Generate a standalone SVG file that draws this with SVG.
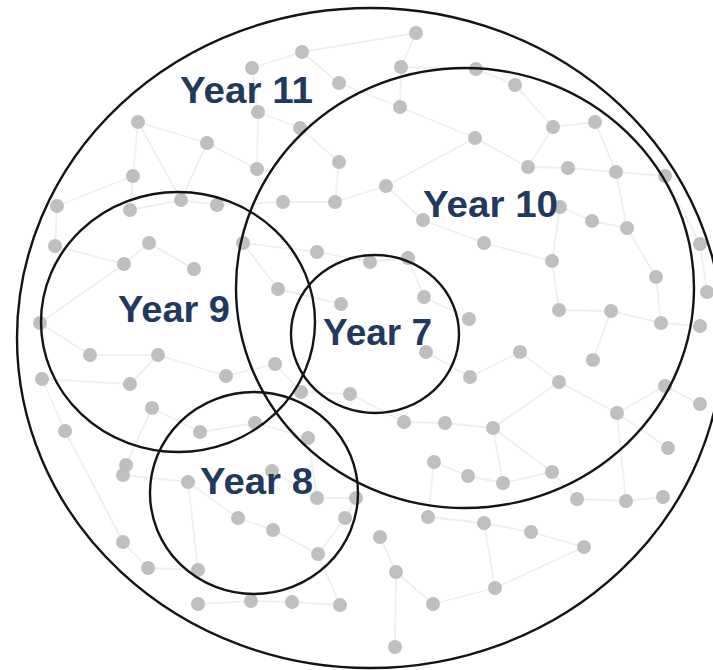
<svg xmlns="http://www.w3.org/2000/svg" width="713" height="670" viewBox="0 0 713 670">
<style>
.bg{fill:#ffffff}
.edge{stroke:#efefef;stroke-width:1.8;fill:none}
.dot{fill:#bfbfbf}
.ring{fill:none;stroke:#141414;stroke-width:2.4}
.lbl{font-family:"Liberation Sans",Arial,sans-serif;font-weight:bold;font-size:36px;fill:#1f3a5e}
</style>
<rect class="bg" x="0" y="0" width="713" height="670"/>
<g id="network-edges">
<path class="edge" d="M302,52L252,68M302,52L339,83M302,52L416,33M416,33L401,67M401,67L476,69M476,69L515,85M401,67L400,107M339,83L400,107M258,112L300,128M300,128L339,162M252,68L258,112M258,112L257,169M138,122L207,143M138,122L181,200M207,143L181,200M207,143L257,169M133,176L57,206M133,176L130,210M57,206L55,246M130,210L181,200M181,200L217,205M217,205L283,202M283,202L335,202M335,202L386,186M339,162L335,202M400,107L475,138M475,138L386,186M475,138L528,167M515,85L553,127M553,127L595,122M553,127L528,167M528,167L568,168M568,168L616,172M616,172L665,176M595,122L616,172M616,172L627,228M592,221L627,228M560,207L592,221M560,207L552,261M386,186L423,220M423,220L484,243M484,243L552,261M627,228L656,277M665,176L700,244M700,244L707,292M656,277L661,323M552,261L559,310M559,310L611,311M611,311L661,323M661,323L700,326M611,311L593,360M424,297L469,319M408,258L424,297M370,262L408,258M317,252L370,262M243,243L317,252M243,243L278,289M278,289L341,304M149,243L124,264M149,243L194,269M55,246L124,264M124,264L40,323M40,323L90,355M90,355L158,355M158,355L130,384M130,384L42,379M158,355L226,376M226,376L275,364M275,364L301,392M301,392L350,394M350,394L404,422M404,422L445,423M445,423L493,428M493,428L559,382M559,382L520,352M520,352L470,377M470,377L426,352M559,382L617,413M617,413L665,386M665,386L700,404M617,413L668,448M617,413L626,501M493,428L552,472M493,428L503,483M434,462L468,476M468,476L503,483M503,483L552,472M434,462L428,517M577,499L626,501M626,501L663,497M552,472L577,499M428,517L484,523M484,523L531,532M531,532L584,547M380,537L396,572M396,572L433,604M433,604L495,588M495,588L484,523M495,588L584,547M395,647L396,572M356,498L345,518M345,518L318,554M318,554L340,605M340,605L292,602M292,602L251,601M251,601L198,604M198,570L148,568M148,568L123,542M123,542L65,431M65,431L42,379M126,465L152,408M152,408L200,432M200,432L255,423M255,423L308,438M188,482L238,518M238,518L273,530M273,530L318,554M188,482L198,570M272,471L317,498M317,498L356,498M308,438L317,498M123,475L188,482M138,122L133,176"/>
</g>
<g id="network-dots" class="dot">
<circle cx="302" cy="52" r="7"/><circle cx="252" cy="68" r="7"/><circle cx="339" cy="83" r="7"/><circle cx="258" cy="112" r="7"/><circle cx="138" cy="122" r="7"/><circle cx="207" cy="143" r="7"/><circle cx="300" cy="128" r="7"/><circle cx="339" cy="162" r="7"/><circle cx="257" cy="169" r="7"/><circle cx="133" cy="176" r="7"/><circle cx="57" cy="206" r="7"/><circle cx="130" cy="210" r="7"/><circle cx="181" cy="200" r="7"/><circle cx="217" cy="205" r="7"/><circle cx="283" cy="202" r="7"/><circle cx="335" cy="202" r="7"/><circle cx="55" cy="246" r="7"/><circle cx="149" cy="243" r="7"/><circle cx="243" cy="243" r="7"/><circle cx="317" cy="252" r="7"/><circle cx="124" cy="264" r="7"/><circle cx="194" cy="269" r="7"/><circle cx="278" cy="289" r="7"/><circle cx="341" cy="304" r="7"/><circle cx="40" cy="323" r="7"/><circle cx="416" cy="33" r="7"/><circle cx="401" cy="67" r="7"/><circle cx="476" cy="69" r="7"/><circle cx="515" cy="85" r="7"/><circle cx="400" cy="107" r="7"/><circle cx="553" cy="127" r="7"/><circle cx="595" cy="122" r="7"/><circle cx="475" cy="138" r="7"/><circle cx="528" cy="167" r="7"/><circle cx="568" cy="168" r="7"/><circle cx="616" cy="172" r="7"/><circle cx="665" cy="176" r="7"/><circle cx="386" cy="186" r="7"/><circle cx="560" cy="207" r="7"/><circle cx="423" cy="220" r="7"/><circle cx="592" cy="221" r="7"/><circle cx="627" cy="228" r="7"/><circle cx="484" cy="243" r="7"/><circle cx="552" cy="261" r="7"/><circle cx="700" cy="244" r="7"/><circle cx="370" cy="262" r="7"/><circle cx="408" cy="258" r="7"/><circle cx="656" cy="277" r="7"/><circle cx="707" cy="292" r="7"/><circle cx="424" cy="297" r="7"/><circle cx="469" cy="319" r="7"/><circle cx="559" cy="310" r="7"/><circle cx="611" cy="311" r="7"/><circle cx="661" cy="323" r="7"/><circle cx="700" cy="326" r="7"/><circle cx="90" cy="355" r="7"/><circle cx="158" cy="355" r="7"/><circle cx="42" cy="379" r="7"/><circle cx="130" cy="384" r="7"/><circle cx="226" cy="376" r="7"/><circle cx="275" cy="364" r="7"/><circle cx="350" cy="394" r="7"/><circle cx="301" cy="392" r="7"/><circle cx="152" cy="408" r="7"/><circle cx="65" cy="431" r="7"/><circle cx="200" cy="432" r="7"/><circle cx="255" cy="423" r="7"/><circle cx="308" cy="438" r="7"/><circle cx="126" cy="465" r="7"/><circle cx="123" cy="475" r="7"/><circle cx="188" cy="482" r="7"/><circle cx="272" cy="471" r="7"/><circle cx="317" cy="498" r="7"/><circle cx="356" cy="498" r="7"/><circle cx="345" cy="518" r="7"/><circle cx="238" cy="518" r="7"/><circle cx="273" cy="530" r="7"/><circle cx="123" cy="542" r="7"/><circle cx="318" cy="554" r="7"/><circle cx="148" cy="568" r="7"/><circle cx="198" cy="570" r="7"/><circle cx="198" cy="604" r="7"/><circle cx="251" cy="601" r="7"/><circle cx="292" cy="602" r="7"/><circle cx="340" cy="605" r="7"/><circle cx="426" cy="352" r="7"/><circle cx="520" cy="352" r="7"/><circle cx="593" cy="360" r="7"/><circle cx="470" cy="377" r="7"/><circle cx="559" cy="382" r="7"/><circle cx="665" cy="386" r="7"/><circle cx="700" cy="404" r="7"/><circle cx="404" cy="422" r="7"/><circle cx="445" cy="423" r="7"/><circle cx="493" cy="428" r="7"/><circle cx="617" cy="413" r="7"/><circle cx="668" cy="448" r="7"/><circle cx="434" cy="462" r="7"/><circle cx="468" cy="476" r="7"/><circle cx="503" cy="483" r="7"/><circle cx="552" cy="472" r="7"/><circle cx="577" cy="499" r="7"/><circle cx="626" cy="501" r="7"/><circle cx="663" cy="497" r="7"/><circle cx="428" cy="517" r="7"/><circle cx="484" cy="523" r="7"/><circle cx="531" cy="532" r="7"/><circle cx="380" cy="537" r="7"/><circle cx="584" cy="547" r="7"/><circle cx="396" cy="572" r="7"/><circle cx="495" cy="588" r="7"/><circle cx="433" cy="604" r="7"/><circle cx="395" cy="647" r="7"/>
</g>
<g id="year-11">
<ellipse class="ring" cx="370" cy="338" rx="353" ry="330"/>
<text class="lbl" x="180" y="103" textLength="133" lengthAdjust="spacingAndGlyphs">Year 11</text>
</g>
<g id="year-10">
<ellipse class="ring" cx="465" cy="288" rx="229" ry="220"/>
<text class="lbl" x="423" y="217" textLength="135" lengthAdjust="spacingAndGlyphs">Year 10</text>
</g>
<g id="year-9">
<ellipse class="ring" cx="178" cy="322" rx="137" ry="130"/>
<text class="lbl" x="118" y="322" textLength="112" lengthAdjust="spacingAndGlyphs">Year 9</text>
</g>
<g id="year-7">
<ellipse class="ring" cx="375" cy="334" rx="84" ry="79"/>
<text class="lbl" x="323" y="345" textLength="109" lengthAdjust="spacingAndGlyphs">Year 7</text>
</g>
<g id="year-8">
<ellipse class="ring" cx="254" cy="493" rx="104" ry="101"/>
<text class="lbl" x="200" y="494" textLength="113" lengthAdjust="spacingAndGlyphs">Year 8</text>
</g>
</svg>
